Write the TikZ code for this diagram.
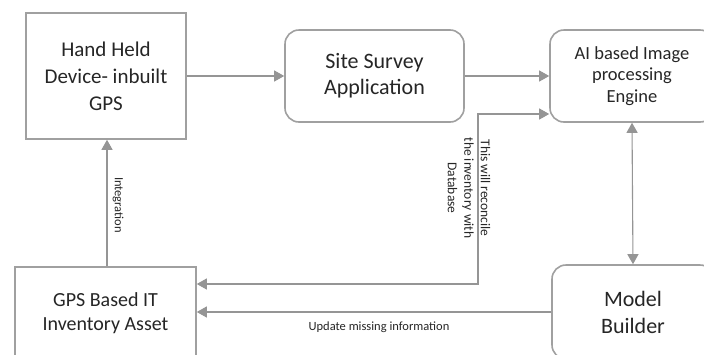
\documentclass[tikz,border=0pt]{standalone}
\usepackage{fontspec}
\setmainfont{Carlito}
\usetikzlibrary{arrows.meta}
\definecolor{boxline}{HTML}{A0A0A0}
\definecolor{conn}{HTML}{959595}
\definecolor{txt}{HTML}{262626}
\tikzset{
  sqbox/.style={draw=boxline, line width=1.6pt, align=center, inner sep=0pt, text=txt},
  rbox/.style={sqbox, rounded corners=14pt},
  conline/.style={draw=conn, line width=1.1pt, -{Triangle[length=10pt,width=11pt]}},
  biline/.style={draw=conn, line width=1.1pt, {Triangle[length=10pt,width=11pt]}-{Triangle[length=10pt,width=11pt]}},
  lbl/.style={text=txt, align=center, inner sep=0pt},
}
\begin{document}
\begin{tikzpicture}[x=1pt,y=-1pt]
\useasboundingbox (0,0) rectangle (704,354);
\fill[white] (0,0) rectangle (704,354);
\begin{scope}
\clip (0,0) rectangle (704,354);
\node[sqbox, minimum width=160pt, minimum height=126pt, font=\fontsize{21}{27}\selectfont] (hh) at (106,76)
  {Hand Held\\Device- inbuilt\\GPS};
\node[rbox, minimum width=179pt, minimum height=92pt, font=\fontsize{22}{26}\selectfont] (ss) at (374.5,76)
  {Site Survey\\Application};
\node[rbox, minimum width=164pt, minimum height=92pt, font=\fontsize{18.5}{21.5}\selectfont] (ai) at (632,76)
  {AI based Image\\processing\\Engine};
\node[sqbox, minimum width=181pt, minimum height=92pt, font=\fontsize{20}{24}\selectfont] (gps) at (105.5,313)
  {GPS Based IT\\Inventory Asset};
\node[rbox, minimum width=162pt, minimum height=94pt, font=\fontsize{22}{27}\selectfont] (mb) at (633,312)
  {Model\\Builder};

\coordinate (c1) at (478,284);
\coordinate (c2) at (478,114);
\coordinate (gx) at (107,0);

\draw[conline] (hh.east) -- (ss.west);
\draw[conline] (ss.east) -- (ai.west);
\draw[biline] (gps.east |- c1) -- (c1) -- (c2) -- (ai.west |- c2);
\draw[conline] (mb.west |- 0,312) -- (gps.east |- 0,312);
\draw[biline] (ai.south) -- (mb.north);
\draw[conline] (gps.north -| gx) -- (hh.south -| gx);

\node[lbl, rotate=-90, font=\fontsize{12.5}{15}\selectfont] (lint) at (118,205) {Integration};
\node[lbl, font=\fontsize{12.5}{15}\selectfont] (lupd) at (379,327) {Update missing information};
\node[lbl, rotate=-90, font=\fontsize{13.5}{16.5}\selectfont] (lrec) at (469,188)
  {This will reconcile\\the inventory with\\Database};
\end{scope}
\end{tikzpicture}
\end{document}
